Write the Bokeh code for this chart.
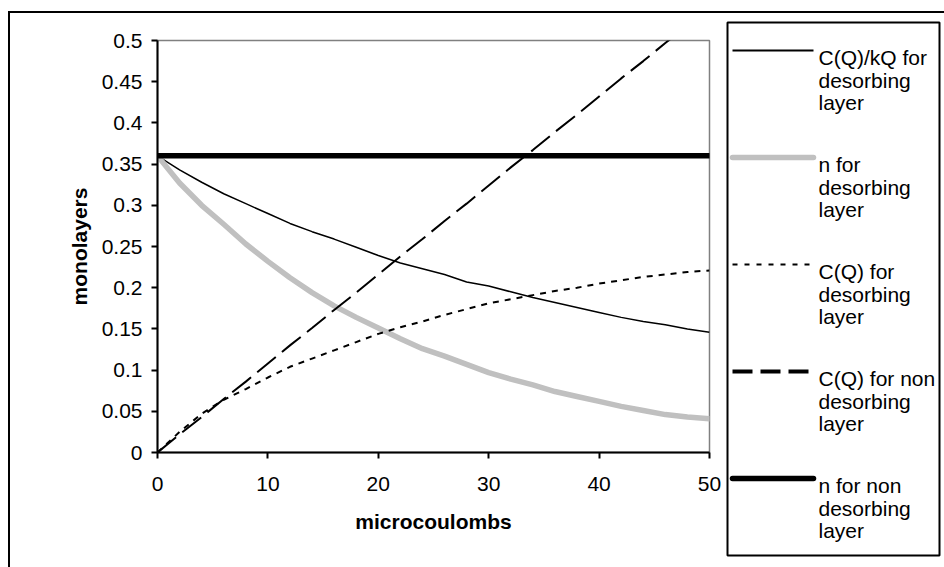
from bokeh.plotting import figure
from bokeh.layouts import row
from bokeh.models import Range1d, FixedTicker
from bokeh.core.properties import value
from bokeh.embed import file_html
from bokeh.resources import INLINE

# Charge passed (microcoulombs)
charge = [0, 2, 4, 6, 8, 10, 12, 14, 16, 18, 20, 22, 24, 26, 28, 30,
          32, 34, 36, 38, 40, 42, 44, 46, 48, 50]

# C(Q)/kQ for the desorbing layer
cq_kq_des = [0.360, 0.343, 0.328, 0.314, 0.302, 0.290, 0.278, 0.268, 0.259,
             0.249, 0.239, 0.230, 0.223, 0.216, 0.207, 0.202, 0.195, 0.188,
             0.182, 0.176, 0.170, 0.164, 0.159, 0.155, 0.150, 0.146]

# n for the desorbing layer
n_des = [0.360, 0.327, 0.300, 0.277, 0.253, 0.232, 0.212, 0.194, 0.178,
         0.164, 0.151, 0.138, 0.126, 0.117, 0.107, 0.097, 0.089, 0.082,
         0.074, 0.068, 0.062, 0.056, 0.051, 0.046, 0.043, 0.041]

# C(Q) for the desorbing layer
cq_des = [0.000, 0.025, 0.047, 0.064, 0.077, 0.091, 0.104, 0.114, 0.124,
          0.134, 0.144, 0.152, 0.159, 0.167, 0.174, 0.181, 0.186, 0.191,
          0.196, 0.200, 0.205, 0.209, 0.213, 0.216, 0.219, 0.221]

# C(Q) for the non desorbing layer
cq_non = [0.000, 0.022, 0.043, 0.065, 0.086, 0.108, 0.130, 0.151, 0.173,
          0.194, 0.216, 0.238, 0.259, 0.281, 0.302, 0.324, 0.346, 0.367,
          0.389, 0.410, 0.432, 0.454, 0.475, 0.497, 0.518, 0.540]

# n for the non desorbing layer (constant coverage)
n_non_charge = [0, 50]
n_non = [0.36, 0.36]

x_ticks = [0, 10, 20, 30, 40, 50]
x_tick_labels = ["0", "10", "20", "30", "40", "50"]
y_ticks = [0, 0.05, 0.1, 0.15, 0.2, 0.25, 0.3, 0.35, 0.4, 0.45, 0.5]
y_tick_labels = ["0", "0.05", "0.1", "0.15", "0.2", "0.25", "0.3", "0.35",
                 "0.4", "0.45", "0.5"]

series_labels = [
    ["C(Q)/kQ for", "desorbing", "layer"],
    ["n for", "desorbing", "layer"],
    ["C(Q) for", "desorbing", "layer"],
    ["C(Q) for non", "desorbing", "layer"],
    ["n for non", "desorbing", "layer"],
]

FONT = "Liberation Sans"
FS = "21px"

# line styles per series: plot lines and legend swatches
styles = [
    dict(line_color="black", line_width=1.5, line_dash="solid", line_cap="butt"),
    dict(line_color="#c0c0c0", line_width=5.5, line_dash="solid", line_cap="round"),
    dict(line_color="black", line_width=2, line_dash="6 6", line_cap="butt"),
    dict(line_color="black", line_width=2, line_dash="24 8", line_cap="butt"),
    dict(line_color="black", line_width=5.5, line_dash="solid", line_cap="round"),
]
legend_styles = [
    dict(line_color="black", line_width=2, line_dash="solid", line_cap="butt"),
    dict(line_color="#c0c0c0", line_width=5.5, line_dash="solid", line_cap="round"),
    dict(line_color="black", line_width=2, line_dash="5 7", line_cap="butt"),
    dict(line_color="black", line_width=4, line_dash="20 8", line_cap="butt"),
    dict(line_color="black", line_width=5.5, line_dash="solid", line_cap="round"),
]

# ---- main chart -------------------------------------------------------
p = figure(width=712, height=554, output_backend="svg", toolbar_location=None,
           x_range=Range1d(0, 50), y_range=Range1d(0, 0.5),
           min_border_left=147, min_border_right=13,
           min_border_top=27, min_border_bottom=115)
p.frame_align = False
p.background_fill_color = "white"
p.border_fill_color = "white"
p.outline_line_color = "#808080"
p.outline_line_width = 1.5
p.xgrid.visible = False
p.ygrid.visible = False

series = [(charge, cq_kq_des), (charge, n_des), (charge, cq_des),
          (charge, cq_non), (n_non_charge, n_non)]
for (xs, ys), st in zip(series, styles):
    p.line(xs, ys, line_join="round", **st)

for ax in (p.xaxis[0], p.yaxis[0]):
    ax.axis_line_color = "black"
    ax.axis_line_width = 2
    ax.major_tick_line_color = "black"
    ax.major_tick_line_width = 2
    ax.major_tick_out = 6
    ax.major_tick_in = 0
    ax.minor_tick_line_color = None
    ax.major_label_text_font = FONT
    ax.major_label_text_font_size = FS
    ax.major_label_text_color = "black"
    ax.axis_label_text_font = FONT
    ax.axis_label_text_font_size = FS
    ax.axis_label_text_font_style = "bold"
    ax.axis_label_text_color = "black"

p.xaxis.ticker = FixedTicker(ticks=x_ticks)
p.xaxis.major_label_overrides = dict(zip(x_ticks, x_tick_labels))
p.xaxis.major_label_standoff = 18
p.xaxis.axis_label = "microcoulombs"
p.xaxis.axis_label_standoff = 16

p.yaxis.ticker = FixedTicker(ticks=y_ticks)
p.yaxis.major_label_overrides = dict(zip(y_ticks, y_tick_labels))
p.yaxis.major_label_standoff = 9
p.yaxis.axis_label = "monolayers"
p.yaxis.axis_label_standoff = 8

# ---- legend panel (page pixel coordinates, y downwards) ---------------
lg = figure(width=222, height=554, output_backend="svg", toolbar_location=None,
            x_range=Range1d(722, 944), y_range=Range1d(567, 13),
            x_axis_type=None, y_axis_type=None,
            min_border=0, min_border_left=0, min_border_right=0,
            min_border_top=0, min_border_bottom=0)
lg.frame_align = False
lg.outline_line_color = None
lg.xgrid.visible = False
lg.ygrid.visible = False
lg.background_fill_color = "white"
lg.border_fill_color = "white"

lg.quad(left=[727], right=[939], top=[22], bottom=[555],
        fill_alpha=0, line_color="black", line_width=2)

item_gap = 107
for i, (lines, st) in enumerate(zip(series_labels, legend_styles)):
    ly = 50 + item_gap * i
    lg.line([732, 813], [ly, ly], **st)
    lg.text(x=[818] * len(lines), y=[ly + 7 + 22.5 * j for j in range(len(lines))],
            text=lines, text_font=value(FONT), text_font_size=FS,
            text_color="black", text_baseline="alphabetic", text_align="left")

layout = row(p, lg, margin=(11, 0, 0, 8),
             styles={"border-left": "2px solid black",
                     "border-top": "2px solid black"})

open("out.html", "w").write(file_html(layout, INLINE))
